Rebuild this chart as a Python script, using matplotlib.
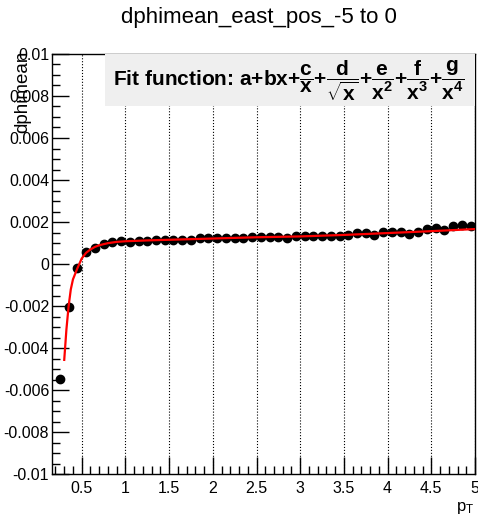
import numpy as np
import matplotlib
matplotlib.use('Agg')
import matplotlib.pyplot as plt
from matplotlib.patches import Rectangle
from matplotlib.ticker import MultipleLocator, FuncFormatter

# Datos (centros de bin en pT y valor medio de dphi)
pt = [0.25, 0.35, 0.45, 0.55, 0.65, 0.75, 0.85, 0.95, 1.05, 1.15,
      1.25, 1.35, 1.45, 1.55, 1.65, 1.75, 1.85, 1.95, 2.05, 2.15,
      2.25, 2.35, 2.45, 2.55, 2.65, 2.75, 2.85, 2.95, 3.05, 3.15,
      3.25, 3.35, 3.45, 3.55, 3.65, 3.75, 3.85, 3.95, 4.05, 4.15,
      4.25, 4.35, 4.45, 4.55, 4.65, 4.75, 4.85, 4.95]
dphimean = [-0.00545, -0.00204, -0.00020, 0.00056, 0.00075, 0.00096, 0.00104, 0.00109, 0.00106, 0.00111,
            0.00112, 0.00117, 0.00116, 0.00116, 0.00116, 0.00115, 0.00123, 0.00123, 0.00123, 0.00123,
            0.00123, 0.00123, 0.00131, 0.00129, 0.00128, 0.00128, 0.00123, 0.00132, 0.00135, 0.00135,
            0.00135, 0.00135, 0.00135, 0.00139, 0.00147, 0.00146, 0.00139, 0.00152, 0.00152, 0.00155,
            0.00144, 0.00152, 0.00167, 0.00172, 0.00164, 0.00183, 0.00188, 0.00183]

# Curva de ajuste
fit_pt = [0.30, 0.325, 0.35, 0.375, 0.40, 0.45, 0.50, 0.55, 0.60, 0.65,
          0.70, 0.80, 0.90, 1.0, 1.25, 1.5, 2.0, 2.5, 3.0, 3.5,
          4.0, 4.5, 5.0]
fit_val = [-0.00455, -0.0031, -0.0020, -0.0012, -0.00072, -0.0002, 0.00027, 0.00054, 0.00070, 0.00082,
           0.00090, 0.00100, 0.00106, 0.00109, 0.00113, 0.00116, 0.00122, 0.00128, 0.00132, 0.00139,
           0.00148, 0.00157, 0.00167]

plt.rcParams['font.family'] = ['Liberation Sans', 'DejaVu Sans']
plt.rcParams['mathtext.fontset'] = 'custom'
plt.rcParams['mathtext.rm'] = 'Liberation Sans'
plt.rcParams['mathtext.it'] = 'Liberation Sans:italic'
plt.rcParams['mathtext.bf'] = 'Liberation Sans:bold'

fig = plt.figure(figsize=(4.78, 5.18), dpi=100)
ax = fig.add_axes([52 / 478, 0.084, (475 - 52) / 478, 0.896 - 0.084])

ax.plot(pt, dphimean, 'o', color='black', ms=6, zorder=3)
ax.plot(fit_pt, fit_val, '-', color='red', lw=1.6, zorder=4)

ax.set_xlim(0.16, 5.0)
ax.set_ylim(-0.01, 0.01)
ax.xaxis.set_major_locator(MultipleLocator(0.5))
ax.xaxis.set_minor_locator(MultipleLocator(0.1))
ax.yaxis.set_major_locator(MultipleLocator(0.002))
ax.yaxis.set_minor_locator(MultipleLocator(0.0005))
fmt = FuncFormatter(lambda v, p: '%g' % round(v, 6))
ax.xaxis.set_major_formatter(fmt)
ax.yaxis.set_major_formatter(fmt)
ax.tick_params(which='both', direction='in', top=False, right=False, labelsize=11.5, width=1)
ax.tick_params(which='major', length=12)
ax.tick_params(which='minor', length=6)
ax.tick_params(axis='y', pad=2)
ax.tick_params(axis='x', pad=5)
ax.grid(True, axis='x', which='major', color='black', linestyle=':', linewidth=0.8)
for s in ax.spines.values():
    s.set_linewidth(1)

# Caja con la función de ajuste
ax.add_patch(Rectangle((0.125, 0.875), 0.875, 0.125, transform=ax.transAxes,
                       facecolor='#efefef', edgecolor='none', zorder=5, clip_on=False))
ax.text(0.145, 0.9375,
        r'Fit function: $\mathbf{a{+}bx{+}\dfrac{c}{x}{+}\dfrac{d}{\sqrt{x}}{+}\dfrac{e}{x^2}{+}\dfrac{f}{x^3}{+}\dfrac{g}{x^4}}$',
        transform=ax.transAxes, fontsize=15, fontweight='bold', ha='left', va='center', zorder=6)

fig.text(259 / 478, 1 - 17 / 518, 'dphimean_east_pos_-5 to 0', fontsize=16, ha='center', va='center')
fig.text(23 / 478, 0.902, 'dphimean', rotation=90, fontsize=13.5, ha='center', va='top')
fig.text(474 / 478, 1 - 508 / 518, r'p$_{\rm T}$', fontsize=12, ha='right', va='center')

plt.savefig('out.png', dpi=100)
